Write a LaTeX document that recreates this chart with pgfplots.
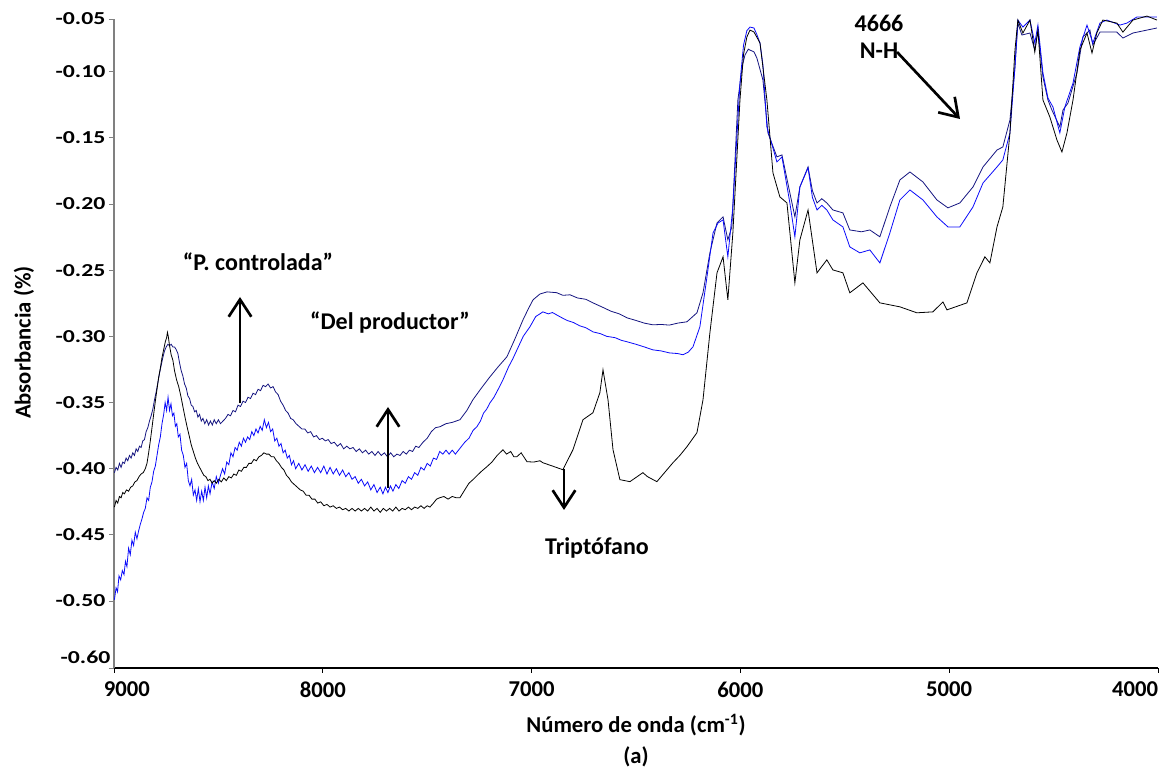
\documentclass[border=0pt]{standalone}
\usepackage{fontspec}
\setmainfont{Carlito}
\newfontfamily\ytfont[FakeStretch=1.3]{Carlito}
\usepackage{pgfplots}
\usepackage{pgfplotstable}
\pgfplotsset{compat=1.18}
\usetikzlibrary{arrows.meta}
\definecolor{navyc}{RGB}{20,20,128}
\definecolor{bluec}{RGB}{10,10,250}
\definecolor{axgray}{RGB}{128,128,128}

\pgfplotstableread{
x y
8998 -0.4030
8990 -0.3990
8982 -0.4010
8974 -0.3960
8966 -0.3990
8958 -0.3950
8950 -0.3960
8942 -0.3920
8934 -0.3940
8926 -0.3900
8918 -0.3920
8910 -0.3880
8902 -0.3900
8894 -0.3850
8886 -0.3870
8878 -0.3830
8870 -0.3840
8862 -0.3790
8854 -0.3780
8846 -0.3720
8838 -0.3690
8830 -0.3640
8822 -0.3600
8814 -0.3550
8806 -0.3480
8798 -0.3420
8790 -0.3350
8782 -0.3280
8774 -0.3220
8766 -0.3160
8758 -0.3110
8750 -0.3080
8742 -0.3060
8734 -0.3070
8726 -0.3060
8718 -0.3080
8710 -0.3080
8702 -0.3100
8694 -0.3130
8686 -0.3200
8678 -0.3260
8670 -0.3300
8662 -0.3360
8654 -0.3390
8646 -0.3450
8638 -0.3470
8630 -0.3520
8622 -0.3530
8614 -0.3570
8606 -0.3560
8598 -0.3610
8590 -0.3590
8582 -0.3640
8574 -0.3620
8565 -0.3660
8556 -0.3630
8547 -0.3670
8538 -0.3640
8529 -0.3670
8520 -0.3630
8510 -0.3660
8500 -0.3630
8490 -0.3660
8478 -0.3640
8466 -0.3620
8454 -0.3590
8442 -0.3600
8430 -0.3560
8418 -0.3570
8406 -0.3520
8394 -0.3530
8382 -0.3490
8370 -0.3500
8358 -0.3460
8346 -0.3470
8334 -0.3430
8322 -0.3440
8310 -0.3400
8298 -0.3410
8286 -0.3370
8274 -0.3380
8262 -0.3360
8250 -0.3390
8238 -0.3380
8226 -0.3420
8214 -0.3440
8202 -0.3490
8190 -0.3520
8178 -0.3560
8166 -0.3580
8154 -0.3620
8142 -0.3630
8128 -0.3660
8114 -0.3680
8100 -0.3700
8086 -0.3700
8072 -0.3730
8058 -0.3720
8044 -0.3760
8030 -0.3750
8016 -0.3780
8002 -0.3770
7988 -0.3790
7974 -0.3780
7960 -0.3810
7945 -0.3800
7930 -0.3830
7915 -0.3810
7900 -0.3850
7885 -0.3830
7870 -0.3850
7855 -0.3840
7840 -0.3870
7825 -0.3850
7810 -0.3880
7795 -0.3860
7780 -0.3890
7765 -0.3870
7750 -0.3900
7735 -0.3870
7720 -0.3900
7705 -0.3880
7690 -0.3910
7675 -0.3880
7660 -0.3910
7645 -0.3890
7630 -0.3900
7615 -0.3870
7600 -0.3890
7585 -0.3860
7570 -0.3870
7555 -0.3830
7540 -0.3840
7520 -0.3800
7500 -0.3770
7480 -0.3720
7460 -0.3690
7439 -0.3683
7410 -0.3660
7380 -0.3650
7343 -0.3630
7310 -0.3560
7281 -0.3479
7240 -0.3390
7199 -0.3305
7160 -0.3230
7118 -0.3154
7080 -0.3020
7041 -0.2875
7015 -0.2790
6993 -0.2724
6960 -0.2680
6926 -0.2664
6880 -0.2670
6850 -0.2690
6816 -0.2686
6780 -0.2710
6740 -0.2720
6706 -0.2747
6660 -0.2780
6620 -0.2810
6580 -0.2830
6543 -0.2860
6500 -0.2880
6460 -0.2900
6419 -0.2913
6380 -0.2910
6340 -0.2915
6300 -0.2900
6256 -0.2890
6208 -0.2822
6179 -0.2671
6146 -0.2369
6112 -0.2143
6083 -0.2097
6060 -0.2271
6041 -0.2173
6012 -0.1214
5990 -0.0950
5978 -0.0874
5962 -0.0830
5954 -0.0837
5935 -0.0850
5921 -0.0897
5892 -0.1063
5868 -0.1463
5825 -0.1644
5801 -0.1629
5763 -0.1916
5739 -0.2097
5715 -0.1871
5676 -0.1720
5655 -0.1900
5633 -0.1992
5610 -0.1960
5586 -0.1992
5557 -0.2045
5509 -0.2067
5476 -0.2196
5420 -0.2210
5380 -0.2196
5332 -0.2248
5284 -0.2022
5236 -0.1818
5188 -0.1758
5126 -0.1833
5059 -0.1969
5006 -0.2029
4949 -0.1992
4886 -0.1871
4838 -0.1720
4771 -0.1592
4743 -0.1569
4709 -0.1365
4685 -0.0965
4671 -0.0633
4652 -0.0723
4613 -0.0708
4590 -0.0837
4575 -0.0686
4551 -0.1040
4527 -0.1214
4508 -0.1290
4470 -0.1418
4455 -0.1290
4431 -0.1237
4388 -0.1010
4360 -0.0738
4326 -0.0686
4312 -0.0799
4278 -0.0701
4197 -0.0701
4168 -0.0746
4120 -0.0708
4005 -0.0670
}\navydata

\pgfplotstableread{
x y
8998 -0.4990
8990 -0.4900
8983 -0.4930
8976 -0.4810
8968 -0.4840
8960 -0.4770
8952 -0.4800
8945 -0.4700
8938 -0.4740
8930 -0.4600
8922 -0.4650
8914 -0.4540
8906 -0.4580
8898 -0.4480
8890 -0.4530
8882 -0.4470
8874 -0.4420
8866 -0.4380
8858 -0.4330
8850 -0.4300
8842 -0.4220
8834 -0.4240
8826 -0.4140
8818 -0.4100
8810 -0.4020
8802 -0.3980
8794 -0.3900
8786 -0.3820
8778 -0.3760
8770 -0.3660
8762 -0.3590
8755 -0.3500
8748 -0.3560
8741 -0.3460
8734 -0.3560
8727 -0.3510
8720 -0.3600
8713 -0.3580
8706 -0.3680
8699 -0.3660
8692 -0.3760
8684 -0.3740
8676 -0.3860
8668 -0.3900
8660 -0.3990
8652 -0.3960
8644 -0.4090
8636 -0.4130
8628 -0.4080
8620 -0.4200
8612 -0.4160
8604 -0.4240
8596 -0.4150
8588 -0.4250
8580 -0.4170
8572 -0.4240
8564 -0.4140
8556 -0.4220
8548 -0.4130
8540 -0.4190
8530 -0.4100
8520 -0.4150
8510 -0.4060
8500 -0.4110
8490 -0.4050
8480 -0.4000
8470 -0.4040
8460 -0.3950
8450 -0.3970
8440 -0.3880
8430 -0.3910
8420 -0.3840
8410 -0.3860
8400 -0.3800
8390 -0.3830
8380 -0.3770
8370 -0.3800
8360 -0.3760
8350 -0.3780
8340 -0.3720
8330 -0.3750
8320 -0.3700
8310 -0.3730
8300 -0.3680
8290 -0.3710
8280 -0.3630
8270 -0.3690
8260 -0.3650
8250 -0.3720
8240 -0.3700
8230 -0.3790
8220 -0.3770
8210 -0.3830
8200 -0.3810
8190 -0.3880
8180 -0.3860
8170 -0.3920
8160 -0.3900
8150 -0.3970
8140 -0.3940
8130 -0.4000
8115 -0.3960
8100 -0.4010
8085 -0.3970
8070 -0.4020
8055 -0.3980
8040 -0.4030
8025 -0.3990
8010 -0.4030
7995 -0.3980
7980 -0.4040
7965 -0.3990
7950 -0.4040
7935 -0.4000
7920 -0.4050
7905 -0.4010
7890 -0.4060
7875 -0.4030
7860 -0.4080
7845 -0.4060
7830 -0.4110
7815 -0.4080
7800 -0.4130
7785 -0.4100
7770 -0.4160
7755 -0.4120
7740 -0.4180
7725 -0.4140
7712 -0.4190
7700 -0.4140
7688 -0.4180
7676 -0.4130
7664 -0.4170
7650 -0.4120
7636 -0.4150
7620 -0.4090
7605 -0.4110
7590 -0.4060
7575 -0.4080
7560 -0.4030
7545 -0.4050
7530 -0.3990
7515 -0.4010
7500 -0.3960
7485 -0.3980
7470 -0.3920
7455 -0.3930
7440 -0.3870
7425 -0.3890
7410 -0.3860
7395 -0.3890
7380 -0.3860
7365 -0.3890
7350 -0.3860
7335 -0.3830
7320 -0.3800
7300 -0.3770
7280 -0.3710
7262 -0.3683
7245 -0.3640
7230 -0.3580
7215 -0.3550
7199 -0.3502
7180 -0.3460
7160 -0.3400
7137 -0.3328
7110 -0.3230
7090 -0.3170
7070 -0.3102
7040 -0.3000
7008 -0.2928
6980 -0.2850
6960 -0.2830
6946 -0.2815
6920 -0.2830
6900 -0.2820
6864 -0.2852
6830 -0.2880
6800 -0.2895
6770 -0.2920
6740 -0.2935
6706 -0.2966
6670 -0.2980
6640 -0.3000
6600 -0.3010
6570 -0.3030
6543 -0.3041
6500 -0.3060
6460 -0.3080
6419 -0.3102
6380 -0.3110
6340 -0.3125
6300 -0.3130
6275 -0.3139
6250 -0.3120
6227 -0.3079
6194 -0.2928
6160 -0.2550
6131 -0.2218
6107 -0.2143
6083 -0.2120
6060 -0.2399
6036 -0.2022
6002 -0.1086
5985 -0.0800
5969 -0.0690
5954 -0.0663
5935 -0.0670
5921 -0.0720
5906 -0.0784
5892 -0.0950
5873 -0.1418
5825 -0.1682
5801 -0.1644
5763 -0.1992
5739 -0.2248
5715 -0.1871
5676 -0.1727
5655 -0.1950
5633 -0.2045
5610 -0.2010
5586 -0.2045
5557 -0.2120
5509 -0.2173
5476 -0.2324
5428 -0.2369
5380 -0.2347
5332 -0.2445
5284 -0.2218
5236 -0.1969
5188 -0.1894
5126 -0.1969
5059 -0.2097
5006 -0.2173
4949 -0.2173
4886 -0.2022
4838 -0.1841
4771 -0.1720
4743 -0.1667
4709 -0.1463
4685 -0.0965
4671 -0.0610
4647 -0.0663
4613 -0.0610
4590 -0.0784
4575 -0.0648
4551 -0.1010
4527 -0.1199
4503 -0.1267
4470 -0.1463
4446 -0.1267
4407 -0.1086
4374 -0.0814
4340 -0.0648
4312 -0.0784
4278 -0.0633
4245 -0.0610
4182 -0.0648
4149 -0.0633
4101 -0.0587
4005 -0.0587
}\bluedata

\pgfplotstableread{
x y
8998 -0.4290
8990 -0.4240
8982 -0.4260
8974 -0.4210
8966 -0.4220
8958 -0.4180
8950 -0.4190
8940 -0.4160
8930 -0.4170
8920 -0.4140
8910 -0.4130
8900 -0.4100
8890 -0.4090
8880 -0.4060
8870 -0.4040
8860 -0.4030
8850 -0.4000
8842 -0.3960
8834 -0.3880
8826 -0.3790
8818 -0.3690
8810 -0.3590
8802 -0.3490
8794 -0.3400
8786 -0.3310
8778 -0.3240
8770 -0.3160
8762 -0.3100
8754 -0.3040
8748 -0.3010
8744 -0.2970
8740 -0.3000
8734 -0.3070
8726 -0.3140
8718 -0.3180
8710 -0.3260
8700 -0.3330
8690 -0.3380
8680 -0.3450
8670 -0.3530
8660 -0.3610
8650 -0.3683
8640 -0.3750
8630 -0.3820
8620 -0.3870
8610 -0.3920
8600 -0.3960
8590 -0.3990
8580 -0.4020
8570 -0.4050
8560 -0.4060
8550 -0.4090
8540 -0.4080
8530 -0.4110
8520 -0.4090
8510 -0.4110
8498 -0.4080
8486 -0.4100
8474 -0.4070
8462 -0.4090
8450 -0.4060
8438 -0.4070
8426 -0.4040
8414 -0.4050
8402 -0.4010
8390 -0.4020
8378 -0.3990
8366 -0.3990
8354 -0.3960
8342 -0.3960
8330 -0.3930
8318 -0.3940
8306 -0.3910
8294 -0.3900
8282 -0.3880
8270 -0.3890
8258 -0.3890
8246 -0.3910
8234 -0.3910
8222 -0.3940
8210 -0.3960
8198 -0.3990
8186 -0.4010
8174 -0.4050
8162 -0.4070
8150 -0.4100
8136 -0.4120
8122 -0.4140
8108 -0.4160
8094 -0.4170
8080 -0.4200
8066 -0.4200
8052 -0.4230
8038 -0.4230
8024 -0.4260
8010 -0.4250
7995 -0.4280
7980 -0.4270
7965 -0.4290
7950 -0.4280
7935 -0.4300
7920 -0.4290
7905 -0.4310
7890 -0.4300
7875 -0.4320
7860 -0.4300
7845 -0.4320
7830 -0.4300
7815 -0.4320
7800 -0.4300
7785 -0.4320
7770 -0.4290
7755 -0.4320
7740 -0.4300
7725 -0.4330
7710 -0.4300
7695 -0.4320
7680 -0.4300
7665 -0.4320
7650 -0.4290
7635 -0.4320
7620 -0.4300
7605 -0.4310
7590 -0.4290
7575 -0.4310
7560 -0.4290
7545 -0.4300
7530 -0.4280
7515 -0.4300
7500 -0.4280
7487 -0.4290
7470 -0.4260
7455 -0.4230
7439 -0.4219
7420 -0.4210
7400 -0.4230
7380 -0.4210
7360 -0.4220
7343 -0.4219
7320 -0.4160
7300 -0.4110
7281 -0.4083
7260 -0.4050
7240 -0.4020
7214 -0.3985
7190 -0.3950
7165 -0.3900
7137 -0.3857
7120 -0.3890
7100 -0.3870
7085 -0.3910
7070 -0.3909
7050 -0.3880
7022 -0.3947
6990 -0.3950
6960 -0.3940
6946 -0.3955
6900 -0.3980
6850 -0.4008
6802 -0.3857
6754 -0.3630
6706 -0.3577
6673 -0.3426
6658 -0.3253
6634 -0.3479
6610 -0.3857
6577 -0.4083
6529 -0.4098
6467 -0.4030
6445 -0.4060
6400 -0.4098
6323 -0.3955
6290 -0.3900
6256 -0.3834
6208 -0.3728
6179 -0.3479
6146 -0.2973
6112 -0.2520
6083 -0.2399
6060 -0.2724
6036 -0.2218
6002 -0.1214
5985 -0.0870
5969 -0.0738
5954 -0.0686
5935 -0.0700
5921 -0.0740
5906 -0.0784
5873 -0.1214
5844 -0.1765
5811 -0.1946
5777 -0.1992
5739 -0.2596
5715 -0.2271
5676 -0.2045
5633 -0.2520
5586 -0.2422
5557 -0.2498
5509 -0.2520
5476 -0.2671
5413 -0.2596
5332 -0.2747
5236 -0.2777
5155 -0.2822
5078 -0.2815
5030 -0.2740
5011 -0.2800
4915 -0.2747
4867 -0.2520
4829 -0.2399
4805 -0.2445
4771 -0.2173
4743 -0.2022
4709 -0.1463
4685 -0.0837
4671 -0.0610
4647 -0.0708
4613 -0.0610
4590 -0.0852
4575 -0.0686
4551 -0.1214
4518 -0.1342
4484 -0.1516
4460 -0.1607
4436 -0.1463
4407 -0.1214
4374 -0.0837
4340 -0.0708
4316 -0.0859
4293 -0.0708
4264 -0.0610
4197 -0.0633
4168 -0.0701
4120 -0.0610
4053 -0.0580
4005 -0.0610
}\blackdata

\begin{document}
\begin{tikzpicture}[x=1pt,y=1pt]
\path[use as bounding box] (-85.5,-77.25) rectangle (788.25,501);
\begin{axis}[
  at={(0,0)}, anchor=south west,
  scale only axis, width=783pt, height=486.75pt,
  xmin=4000, xmax=9000, x dir=reverse,
  ymin=-0.5506, ymax=-0.0602,
  axis x line=bottom, axis y line=left,
  axis line style={-},
  x axis line style={black, line width=0.9pt},
  y axis line style={axgray, line width=0.9pt},
  tick align=outside, major tick length=3.75pt,
  xtick={4000,5000,6000,7000,8000,9000},
  xticklabels={\makebox[0pt][r]{4000},5000,6000,7000,8000,\makebox[0pt][l]{\hspace{-7.5pt}9000}},
  xtick style={black, line width=0.7pt},
  ytick={-0.5506,-0.50,-0.45,-0.40,-0.35,-0.30,-0.25,-0.20,-0.15,-0.10,-0.0602},
  yticklabels={,-0.50,-0.45,-0.40,-0.35,-0.30,-0.25,-0.20,-0.15,-0.10,-0.05},
  ytick style={axgray, line width=0.7pt},
  extra y ticks={-0.5423},
  extra y tick labels={-0.60},
  extra y tick style={major tick length=0pt},
  xticklabel style={font=\bfseries\fontsize{17}{20}\selectfont, yshift=-3pt},
  yticklabel style={font=\ytfont\bfseries\fontsize{13.7}{16}\selectfont, inner sep=2.5pt},
  clip=false,
]
\addplot[navyc, line width=0.6pt] table[x=x,y=y] {\navydata};
\addplot[bluec, line width=0.6pt] table[x=x,y=y] {\bluedata};
\addplot[black, line width=0.6pt] table[x=x,y=y] {\blackdata};
\end{axis}
\begin{scope}[font=\bfseries\fontsize{17}{20}\selectfont]
\node at (391.5,-42.75) {Número de onda (cm\textsuperscript{-1})};
\node at (391.5,-66.75) {(a)};
\node[rotate=90] at (-67.5,244) {Absorbancia (\%)};
\end{scope}
\begin{scope}[font=\bfseries\fontsize{18}{21}\selectfont]
\node at (108,304.5) {“P. controlada”};
\node at (207,258.75) {“Del productor”};
\node at (362.25,90) {Triptófano};
\node at (573.75,483.75) {4666};
\node at (573.75,462.75) {N-H};
\end{scope}
\begin{scope}[line width=2pt, -{Straight Barb[length=13pt,width=17pt,line width=2pt]}]
\draw (94.5,198.75) -- (94.5,278.25);
\draw (205.5,135) -- (205.5,195.75);
\draw (337.5,149.25) -- (337.5,118.5);
\draw (587.25,462) -- (634.5,411.75);
\end{scope}
\end{tikzpicture}
\end{document}
